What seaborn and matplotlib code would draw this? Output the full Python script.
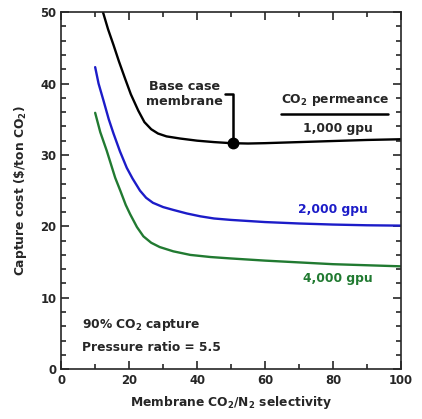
import matplotlib
matplotlib.use('Agg')
import matplotlib.pyplot as plt
import numpy as np
import pandas as pd
import seaborn as sns

sns.set_style('ticks')
plt.rcParams['font.family'] = ['DejaVu Sans']
plt.rcParams['font.weight'] = 'bold'
plt.rcParams['axes.labelweight'] = 'bold'
plt.rcParams['mathtext.fontset'] = 'custom'
plt.rcParams['mathtext.default'] = 'bf'
plt.rcParams['mathtext.bf'] = 'DejaVu Sans:bold'
plt.rcParams['mathtext.rm'] = 'DejaVu Sans:bold'

# selectivity values (x) and capture cost for each permeance
sel_1000 = [12.3, 13.8, 15.4, 17, 18.8, 20.5, 22.7, 24.5, 26.5, 28.5, 31, 35, 40, 45, 50, 55, 60, 70, 80, 90, 100]
cost_1000 = [50, 47.6, 45.4, 43.1, 40.7, 38.5, 36.2, 34.6, 33.6, 33.0, 32.6, 32.3, 32.0, 31.8, 31.65, 31.6, 31.65, 31.8, 31.95, 32.1, 32.2]

sel_2000 = [10, 11, 12.4, 14, 15.4, 17.3, 19.3, 21, 23.2, 25, 27, 30, 33, 37, 41, 45, 50, 60, 70, 80, 90, 100]
cost_2000 = [42.3, 40.0, 37.7, 35.0, 33.0, 30.5, 28.2, 26.7, 25.0, 24.0, 23.3, 22.7, 22.3, 21.8, 21.4, 21.1, 20.9, 20.6, 20.4, 20.25, 20.15, 20.1]

sel_4000 = [10, 11.5, 13.4, 15.9, 17.4, 19, 20.3, 22.3, 24.2, 26.5, 29, 33, 38, 44, 50, 60, 70, 80, 90, 100]
cost_4000 = [35.9, 33.2, 30.6, 26.8, 25.0, 23.0, 21.7, 19.9, 18.6, 17.7, 17.1, 16.5, 16.0, 15.7, 15.5, 15.2, 14.95, 14.7, 14.55, 14.4]

base_case = (50.5, 31.65)

colors = {'1,000 gpu': 'black', '2,000 gpu': '#1c1cc8', '4,000 gpu': '#217a31'}

df = pd.concat([
    pd.DataFrame({'sel': sel_1000, 'cost': cost_1000, 'perm': '1,000 gpu'}),
    pd.DataFrame({'sel': sel_2000, 'cost': cost_2000, 'perm': '2,000 gpu'}),
    pd.DataFrame({'sel': sel_4000, 'cost': cost_4000, 'perm': '4,000 gpu'}),
])

fig, ax = plt.subplots(figsize=(4.22, 4.19), dpi=100)
fig.subplots_adjust(left=0.145, right=0.95, top=0.971, bottom=0.119)

sns.lineplot(data=df, x='sel', y='cost', hue='perm', palette=colors, ax=ax,
             legend=False, linewidth=1.7, sort=False)

# base case marker with bracket
ax.plot([48.2, 50.5, 50.5], [38.5, 38.5, base_case[1]], color='black', lw=1.8)
ax.plot(*base_case, 'o', color='black', ms=7.5)
ax.text(36.3, 38.6, 'Base case\nmembrane', ha='center', va='center', fontsize=9.2, linespacing=1.2)

ax.text(80.5, 37.7, 'CO$_2$ permeance', ha='center', va='center', fontsize=8.8)
ax.plot([64.7, 96.2], [35.7, 35.7], color='black', lw=1.8)
ax.text(81.5, 33.7, '1,000 gpu', ha='center', va='center', fontsize=8.8)
ax.text(80, 22.3, '2,000 gpu', ha='center', va='center', fontsize=8.8, color=colors['2,000 gpu'])
ax.text(81.5, 12.7, '4,000 gpu', ha='center', va='center', fontsize=8.8, color=colors['4,000 gpu'])

ax.text(6, 6.2, '90% CO$_2$ capture', ha='left', va='center', fontsize=8.8)
ax.text(6, 3.1, 'Pressure ratio = 5.5', ha='left', va='center', fontsize=8.8)

ax.set_xlim(0, 100)
ax.set_ylim(0, 50)
ax.set_xticks(np.arange(0, 101, 20))
ax.set_yticks(np.arange(0, 51, 10))
ax.set_xticks(np.arange(0, 101, 10), minor=True)
ax.set_yticks(np.arange(0, 51, 2), minor=True)
ax.tick_params(which='both', direction='in', top=True, right=True, labelsize=8.4, width=1.2)
ax.tick_params(which='major', length=6)
ax.tick_params(which='minor', length=3.5)
for s in ax.spines.values():
    s.set_linewidth(1.2)

ax.set_xlabel('Membrane CO$_2$/N$_2$ selectivity', fontsize=8.8, labelpad=5)
ax.set_ylabel('Capture cost (\\$/ton CO$_2$)', fontsize=8.8, labelpad=8)

fig.savefig('out.png', dpi=100)
